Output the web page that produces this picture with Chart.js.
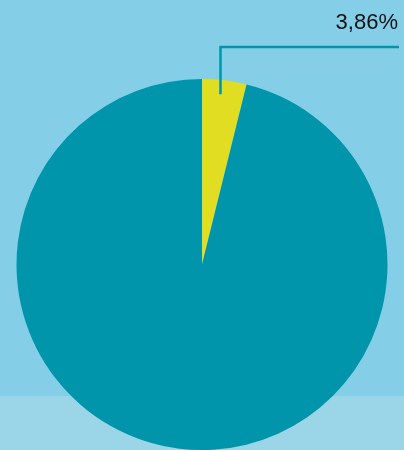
<!DOCTYPE html>
<html>
<head>
<meta charset="utf-8">
<script src="https://cdn.jsdelivr.net/npm/chart.js@4"></script>
<style>
  html, body { margin: 0; padding: 0; background: #84cfe7; }
  #wrap { width: 404px; height: 450px; position: relative; }
</style>
</head>
<body>
<div id="wrap"><canvas id="pie"></canvas></div>
<script>
/* ---- data ---- */
const categories = ["Anteil", "Rest"];
const shares     = [3.86, 96.14];          // percent
const colors     = ["#e0dd22", "#0095aa"];
const labelIndex = 0;                      // which slice gets the callout

// background: light blue with a paler band at the bottom
const bgPlugin = {
  id: "bg",
  beforeDraw(chart) {
    const { ctx, width, height } = chart;
    ctx.save();
    ctx.fillStyle = "#84cfe7";
    ctx.fillRect(0, 0, width, height);
    ctx.fillStyle = "#9ad5e8";
    ctx.fillRect(0, 396, width, height - 396);
    ctx.restore();
  }
};

// callout line + percentage text for one slice
const calloutPlugin = {
  id: "callout",
  afterDatasetsDraw(chart) {
    const arc = chart.getDatasetMeta(0).data[labelIndex];
    if (!arc) return;
    const { ctx, width } = chart;
    const mid = (arc.startAngle + arc.endAngle) / 2;
    const r   = arc.outerRadius;
    const x0  = Math.round(arc.x + Math.cos(mid) * r * 0.8) + 0.5;
    const y0  = arc.y + Math.sin(mid) * r * 0.925;
    const yTop = 47;

    ctx.save();
    ctx.strokeStyle = "#0095aa";
    ctx.lineWidth = 2.5;
    ctx.beginPath();
    ctx.moveTo(x0, y0);
    ctx.lineTo(x0, yTop);
    ctx.lineTo(width - 5, yTop);
    ctx.stroke();

    ctx.fillStyle = "#111";
    ctx.font = "22px 'Liberation Sans', Arial, sans-serif";
    ctx.textAlign = "right";
    ctx.textBaseline = "alphabetic";
    const txt = shares[labelIndex].toFixed(2).replace(".", ",") + "%";
    ctx.fillText(txt, width - 6, 29);
    ctx.restore();
  }
};

new Chart(document.getElementById("pie"), {
  type: "pie",
  data: {
    labels: categories,
    datasets: [{
      data: shares,
      backgroundColor: colors,
      borderWidth: 0
    }]
  },
  options: {
    responsive: true,
    maintainAspectRatio: false,
    animation: false,
    layout: { padding: { top: 79, bottom: 0, left: 0, right: 0 } },
    plugins: {
      legend: { display: false },
      tooltip: { enabled: false }
    }
  },
  plugins: [bgPlugin, calloutPlugin]
});
</script>
</body>
</html>
